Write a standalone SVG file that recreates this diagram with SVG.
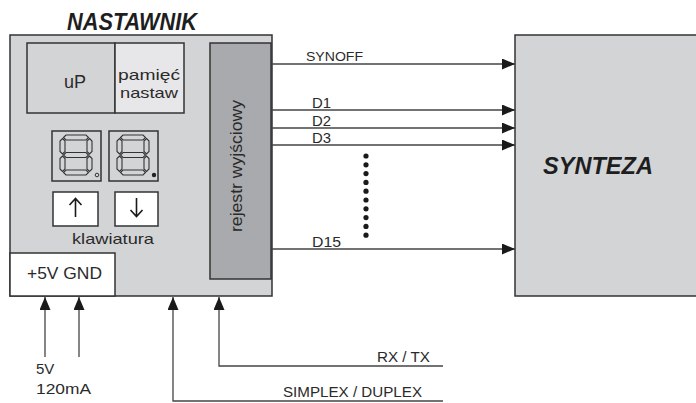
<svg xmlns="http://www.w3.org/2000/svg" width="696" height="403" viewBox="0 0 696 403">
<style>
.box{stroke:#333;stroke-width:1.5}
.t{font-family:"Liberation Sans",Arial,sans-serif;fill:#2a2a2a}
.ti{font-family:"Liberation Sans",Arial,sans-serif;font-weight:bold;font-style:italic;fill:#1e1e1e}
.ln{stroke:#444;stroke-width:1.3;fill:none}
.seg{fill:none;stroke:#333;stroke-width:1.1}
</style>
<defs>
<marker id="ah" markerUnits="userSpaceOnUse" markerWidth="14" markerHeight="12" refX="13" refY="5.5" orient="auto">
<path d="M0,0 L13,5.5 L0,11 z" fill="#1a1a1a"/>
</marker>
<g id="digit">
<polygon class="seg" points="3.5,2.5 6,0 26,0 28.5,2.5 26,5 6,5"/>
<polygon class="seg" points="3.5,20 6,17.5 26,17.5 28.5,20 26,22.5 6,22.5"/>
<polygon class="seg" points="3.5,37.5 6,35 26,35 28.5,37.5 26,40 6,40"/>
<polygon class="seg" points="2.5,3.5 5,6 5,16.5 2.5,19 0,16.5 0,6"/>
<polygon class="seg" points="29.5,3.5 32,6 32,16.5 29.5,19 27,16.5 27,6"/>
<polygon class="seg" points="2.5,21 5,23.5 5,34 2.5,36.5 0,34 0,23.5"/>
<polygon class="seg" points="29.5,21 32,23.5 32,34 29.5,36.5 27,34 27,23.5"/>
</g>
</defs>

<g id="nastawnik">
<text class="ti" x="67" y="30" font-size="23" textLength="130" lengthAdjust="spacingAndGlyphs">NASTAWNIK</text>
<rect class="box" x="10" y="35" width="262" height="261" fill="#d3d4d6"/>
</g>

<g id="up">
<rect class="box" x="27" y="43" width="88" height="70" fill="#d3d4d6"/>
<text class="t" x="75" y="88" font-size="18" text-anchor="middle">uP</text>
</g>

<g id="pamiec">
<rect class="box" x="115" y="43" width="69" height="70" fill="#e7e7e9"/>
<text class="t" x="149" y="80" font-size="15" text-anchor="middle" textLength="62" lengthAdjust="spacingAndGlyphs">pamięć</text>
<text class="t" x="149" y="98" font-size="15" text-anchor="middle" textLength="58" lengthAdjust="spacingAndGlyphs">nastaw</text>
</g>

<g id="wyswietlacz1">
<rect class="box" x="52" y="131" width="49" height="50" fill="#d3d4d6"/>
<use href="#digit" x="60" y="135"/>
<circle cx="97" cy="175" r="1.8" fill="none" stroke="#333" stroke-width="1"/>
</g>
<g id="wyswietlacz2">
<rect class="box" x="109" y="131" width="49" height="50" fill="#d3d4d6"/>
<use href="#digit" x="117" y="135"/>
<circle cx="154" cy="175" r="2.2" fill="#222"/>
</g>

<g id="klawisz-gora">
<rect class="box" x="53" y="192" width="45" height="34" fill="#ffffff"/>
<path d="M75.5,217 V199 M69.5,205 L75.5,198.5 L81.5,205" fill="none" stroke="#1a1a1a" stroke-width="1.6"/>
</g>
<g id="klawisz-dol">
<rect class="box" x="115" y="192" width="43" height="34" fill="#ffffff"/>
<path d="M136.5,198 V216 M130.5,210 L136.5,216.5 L142.5,210" fill="none" stroke="#1a1a1a" stroke-width="1.6"/>
</g>
<g id="klawiatura">
<text class="t" x="72" y="244" font-size="15" textLength="82" lengthAdjust="spacingAndGlyphs">klawiatura</text>
</g>

<g id="zasilanie">
<rect class="box" x="10" y="253" width="105" height="43" fill="#ffffff"/>
<text class="t" x="27" y="279" font-size="16" textLength="75" lengthAdjust="spacingAndGlyphs">+5V GND</text>
</g>

<g id="rejestr">
<rect class="box" x="210" y="43" width="61" height="236" fill="#a9aaae"/>
<text class="t" transform="translate(242,166) rotate(-90)" font-size="16" text-anchor="middle" textLength="132" lengthAdjust="spacingAndGlyphs">rejestr wyjściowy</text>
</g>

<g id="synteza">
<rect class="box" x="515" y="35" width="200" height="261" fill="#d3d4d6"/>
<text class="ti" x="598" y="174" font-size="23" text-anchor="middle" textLength="110" lengthAdjust="spacingAndGlyphs">SYNTEZA</text>
</g>

<g id="connectors">
<line class="ln" x1="272" y1="64" x2="515" y2="64" marker-end="url(#ah)"/>
<line class="ln" x1="272" y1="110" x2="515" y2="110" marker-end="url(#ah)"/>
<line class="ln" x1="272" y1="128" x2="515" y2="128" marker-end="url(#ah)"/>
<line class="ln" x1="272" y1="145" x2="515" y2="145" marker-end="url(#ah)"/>
<line class="ln" x1="272" y1="249" x2="515" y2="249" marker-end="url(#ah)"/>
<line class="ln" x1="45" y1="357" x2="45" y2="297" marker-end="url(#ah)"/>
<line class="ln" x1="79" y1="357" x2="79" y2="297" marker-end="url(#ah)"/>
<polyline class="ln" points="443,401 173,401 173,297" marker-end="url(#ah)"/>
<polyline class="ln" points="443,366 219,366 219,297" marker-end="url(#ah)"/>
<g fill="#1a1a1a">
<circle cx="366" cy="156" r="2.6"/><circle cx="366" cy="164.8" r="2.6"/><circle cx="366" cy="173.6" r="2.6"/><circle cx="366" cy="182.4" r="2.6"/><circle cx="366" cy="191.2" r="2.6"/><circle cx="366" cy="200" r="2.6"/><circle cx="366" cy="208.8" r="2.6"/><circle cx="366" cy="217.6" r="2.6"/><circle cx="366" cy="226.4" r="2.6"/><circle cx="366" cy="235.2" r="2.6"/>
</g>
<text class="t" x="306" y="61" font-size="13" textLength="57" lengthAdjust="spacingAndGlyphs">SYNOFF</text>
<text class="t" x="312" y="108" font-size="14" textLength="19" lengthAdjust="spacingAndGlyphs">D1</text>
<text class="t" x="312" y="126" font-size="14" textLength="19" lengthAdjust="spacingAndGlyphs">D2</text>
<text class="t" x="312" y="143" font-size="14" textLength="19" lengthAdjust="spacingAndGlyphs">D3</text>
<text class="t" x="312" y="247" font-size="14" textLength="29" lengthAdjust="spacingAndGlyphs">D15</text>
<text class="t" x="430" y="362" font-size="15" text-anchor="end" textLength="53" lengthAdjust="spacingAndGlyphs">RX / TX</text>
<text class="t" x="283" y="397" font-size="15" textLength="139" lengthAdjust="spacingAndGlyphs">SIMPLEX / DUPLEX</text>
<text class="t" x="36" y="374" font-size="15">5V</text>
<text class="t" x="36" y="394" font-size="15" textLength="55" lengthAdjust="spacingAndGlyphs">120mA</text>
</g>
</svg>
